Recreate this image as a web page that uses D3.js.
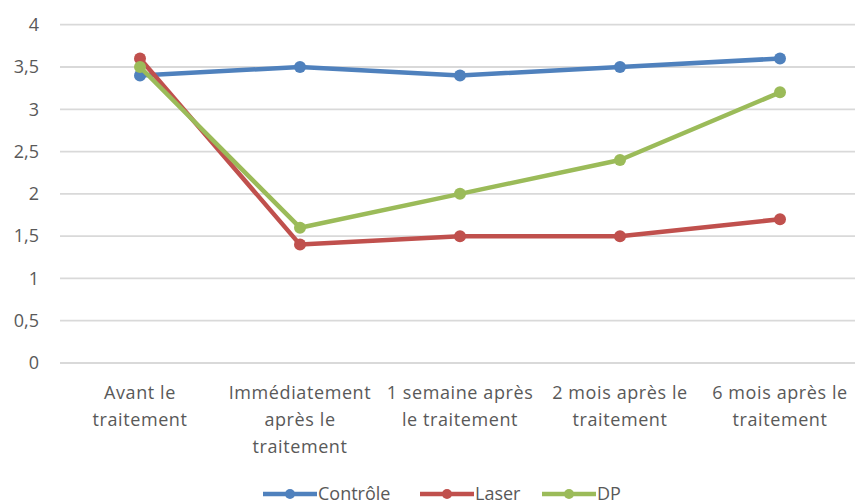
<!DOCTYPE html>
<html><head><meta charset="utf-8">
<script src="https://cdn.jsdelivr.net/npm/d3@7"></script>
<style>body{margin:0;background:#fff}svg{display:block}text{font-family:"Open Sans",sans-serif;fill:#595959}</style>
</head><body><svg id="c" width="855" height="504"></svg>
<script>
const categories = [
  ["Avant le", "traitement"],
  ["Immédiatement", "après le", "traitement"],
  ["1 semaine après", "le traitement"],
  ["2 mois après le", "traitement"],
  ["6 mois après le", "traitement"]
];
const seriesNames = ["Contrôle", "Laser", "DP"];
const controle = [3.4, 3.5, 3.4, 3.5, 3.6];
const laser = [3.6, 1.4, 1.5, 1.5, 1.7];
const dp = [3.5, 1.6, 2.0, 2.4, 3.2];
const yTicks = [0, 0.5, 1, 1.5, 2, 2.5, 3, 3.5, 4];
const colors = ["#4F81BD", "#C0504D", "#9BBB59"];

const svg = d3.select("#c");
const x = d3.scaleBand().domain(d3.range(categories.length)).range([60, 860]);
const y = d3.scaleLinear().domain([0, 4]).range([363, 24.7]);

// gridlines
svg.append("g").selectAll("line").data(yTicks).join("line")
  .attr("x1", 60).attr("x2", 860)
  .attr("y1", d => y(d)).attr("y2", d => y(d))
  .attr("stroke", "#d9d9d9").attr("stroke-width", 1.8);

// y axis labels
const fmt = d => String(d).replace(".", ",");
svg.append("g").selectAll("text").data(yTicks).join("text")
  .attr("x", 39).attr("y", d => y(d)).attr("dy", "0.35em")
  .attr("text-anchor", "end").attr("font-size", 18).text(fmt);

// x labels
const xl = svg.append("g").selectAll("text").data(categories).join("text")
  .attr("text-anchor", "middle").attr("font-size", 18).attr("letter-spacing", 0.6);
xl.each(function(lines, i) {
  const t = d3.select(this);
  lines.forEach((l, j) => {
    t.append("tspan").attr("x", x(i) + x.bandwidth() / 2).attr("y", 399 + j * 27).text(l);
  });
});

const data = [controle, laser, dp];
const line = d3.line().x((d, i) => x(i) + x.bandwidth() / 2).y(d => y(d));
data.forEach((s, k) => {
  const g = svg.append("g");
  g.append("path").datum(s).attr("d", line).attr("fill", "none")
    .attr("stroke", colors[k]).attr("stroke-width", 4.5).attr("stroke-linejoin", "round");
  g.selectAll("circle").data(s).join("circle")
    .attr("cx", (d, i) => x(i) + x.bandwidth() / 2).attr("cy", d => y(d))
    .attr("r", 6).attr("fill", colors[k]);
});

// legend
const legendX = [263, 420, 542];
const lg = svg.append("g");
seriesNames.forEach((n, k) => {
  const lx = legendX[k];
  lg.append("line").attr("x1", lx).attr("x2", lx + 54).attr("y1", 494).attr("y2", 494)
    .attr("stroke", colors[k]).attr("stroke-width", 4.5);
  lg.append("circle").attr("cx", lx + 27).attr("cy", 494).attr("r", 5).attr("fill", colors[k]);
  lg.append("text").attr("x", lx + 55).attr("y", 494).attr("dy", "0.35em")
    .attr("font-size", 18).text(n);
});
</script></body></html>
